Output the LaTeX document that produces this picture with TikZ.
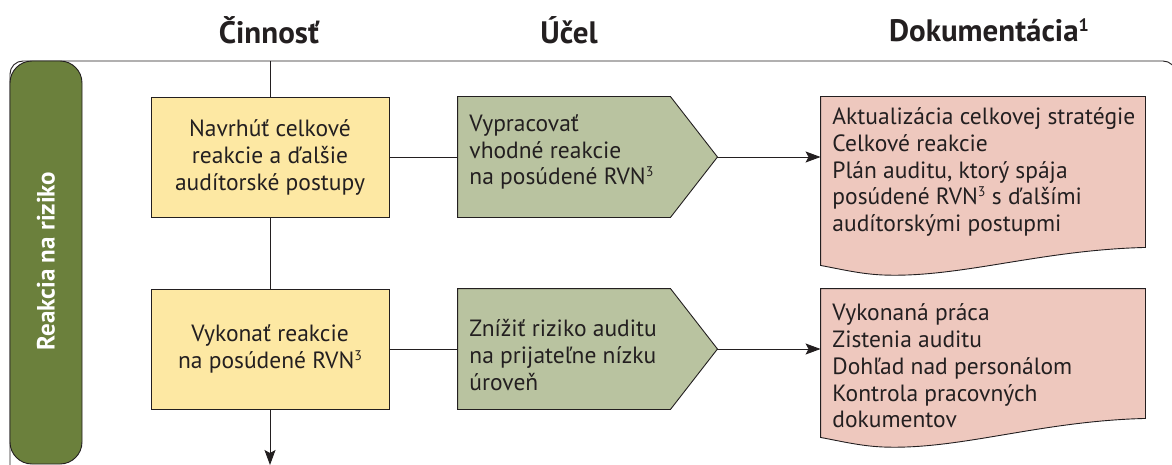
\documentclass[tikz,border=0pt]{standalone}
\usepackage{fontspec}
\setmainfont{PT Sans}
\usetikzlibrary{arrows.meta,calc}
\definecolor{actfill}{HTML}{FDE8A3}
\definecolor{aimfill}{HTML}{B9C3A0}
\definecolor{docfill}{HTML}{EEC8BE}
\definecolor{bandfill}{HTML}{6B803C}
\definecolor{ink}{HTML}{231F20}
% small raised note marker; optional argument is its size in pt
\newcommand{\notemark}[2][14]{\raisebox{0.33em}{\fontsize{#1}{#1}\selectfont #2}}
\begin{document}
\begin{tikzpicture}[x=1pt,y=-1pt,line width=0.9pt,
  activity/.style={draw=ink,fill=actfill,minimum width=238,minimum height=120,
    align=center,inner sep=0,text=ink,font=\fontsize{23.5}{27}\selectfont},
  aimarea/.style={minimum width=259,minimum height=120,inner sep=0},
  bodytext/.style={align=left,inner sep=0,text=ink,font=\fontsize{23.5}{26.7}\selectfont},
  header/.style={text=ink,font=\fontsize{31}{34}\selectfont\bfseries},
  link/.style={draw=ink},
  flow/.style={draw=ink,-{Stealth[length=15pt,width=11pt,inset=3pt]}}]
\useasboundingbox (0,0) rectangle (1172,465);
\clip (0,0) rectangle (1172,465);

% column headers
\node[header] (hact) at (269,30) {Činnosť};
\node[header] (haim) at (569,30) {Účel};
\node[header] (hdoc) at (989,30) {Dokumentácia\notemark[18]{1}};

% lane frame and lane label
\draw[ink,rounded corners=13] (10,61) rectangle (1176,520);
\draw[ink,fill=bandfill,rounded corners=22] (10,61) rectangle (82,464);
\node[rotate=90,text=white,font=\fontsize{25}{28}\selectfont\bfseries] (lane) at (46,261) {Reakcia na riziko};

% activities
\node[activity] (a1) at (270,157) {Navrhúť celkové\\reakcie a ďalšie\\audítorské postupy};
\node[activity] (a2) at (270,349) {Vykonať reakcie\\na posúdené RVN\notemark{3}};

% purposes (pentagons)
\node[aimarea] (p1) at (587.5,157) {};
\node[aimarea] (p2) at (587.5,349) {};
\foreach \p in {p1,p2}{
  \draw[ink,fill=aimfill] (\p.north west) -- ($(\p.north east)+(-47,0)$) -- (\p.east)
    -- ($(\p.south east)+(-47,0)$) -- (\p.south west) -- cycle;
}
\node[bodytext,anchor=west] (t1) at (469,152) {Vypracovať\\vhodné reakcie\\na posúdené RVN\notemark{3}};
\node[bodytext,anchor=west] (t2) at (469,355) {Znížiť riziko auditu\\na prijateľne nízku\\úroveň};

% documentation (document shapes)
\node[minimum width=324,minimum height=168,inner sep=0] (d1) at (983,181) {};
\node[minimum width=324,minimum height=148,inner sep=0] (d2) at (983,363) {};
\draw[ink,fill=docfill] (d1.north west) -- (d1.north east) -- ($(d1.south east)+(0,-18)$)
  .. controls (1040,250) and (960,278) .. (883,275)
  .. controls (860,274) and (840,269) .. (d1.south west) -- cycle;
\draw[ink,fill=docfill] (d2.north west) -- (d2.north east) -- ($(d2.south east)+(0,-19)$)
  .. controls (1040,421) and (960,450) .. (883,447)
  .. controls (860,446) and (840,441) .. (d2.south west) -- cycle;
\node[bodytext,anchor=west] (u1) at (832,172) {Aktualizácia celkovej stratégie\\Celkové reakcie\\Plán auditu, ktorý spája\\posúdené RVN\notemark{3} s ďalšími\\audítorskými postupmi};
\node[bodytext,anchor=west] (u2) at (832,366) {Vykonaná práca\\Zistenia auditu\\Dohľad nad personálom\\Kontrola pracovných\\dokumentov};

% connectors
\coordinate (top) at (270,61);
\coordinate (bottom) at (270,465);
\draw[link] (top) -- (a1.north);
\draw[link] (a1.south) -- (a2.north);
\draw[flow] (a2.south) -- (bottom);
\draw[link] (a1.east) -- (p1.west);
\draw[link] (a2.east) -- (p2.west);
\draw[flow] (p1.east) -- (p1.east -| d1.west);
\draw[flow] (p2.east) -- (p2.east -| d2.west);
\end{tikzpicture}
\end{document}
